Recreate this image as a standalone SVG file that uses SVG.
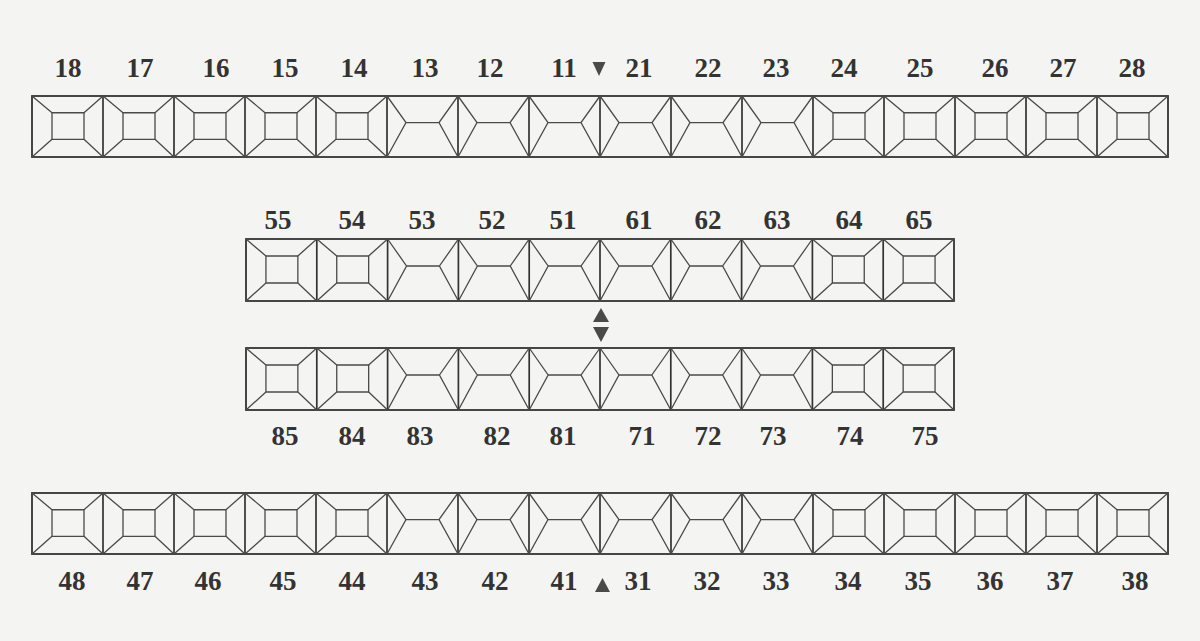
<svg xmlns="http://www.w3.org/2000/svg" xmlns:xlink="http://www.w3.org/1999/xlink" width="1200" height="641" viewBox="0 0 1200 641">
<style>
.bg{fill:#f4f4f2}
.row{fill:none;stroke:#333;stroke-width:1.8}
.div{stroke:#333;stroke-width:1.7}
.ln{fill:none;stroke:#4a4a4a;stroke-width:1.3;vector-effect:non-scaling-stroke}
.lbl{font-family:"Liberation Serif","Times New Roman",serif;font-weight:bold;font-size:27px;fill:#333;text-anchor:middle}
.tri{fill:#4a4a4a}
</style>
<defs>
<symbol id="molar" viewBox="0 0 71 62" preserveAspectRatio="none" overflow="visible">
<rect class="ln" x="20" y="17" width="32" height="27"/>
<path class="ln" d="M0 0L20 17M71 0L52 17M0 62L20 44M71 62L52 44"/>
</symbol>
<symbol id="ant" viewBox="0 0 71 62" preserveAspectRatio="none" overflow="visible">
<path class="ln" d="M0 0L19 27L0 62M19 27H52M71 0L52 27L71 62"/>
</symbol>
</defs>
<rect class="bg" width="1200" height="641"/>

<g id="row-upper">
<rect class="row" x="32" y="96" width="1136" height="61"/>
<path class="div" d="M103 96V157M174 96V157M245 96V157M316 96V157M387 96V157M458 96V157M529 96V157M600 96V157M671 96V157M742 96V157M813 96V157M884 96V157M955 96V157M1026 96V157M1097 96V157"/>
</g>
<g id="row-upper-primary">
<rect class="row" x="246" y="239" width="708" height="62"/>
<path class="div" d="M316.8 239V301M387.6 239V301M458.4 239V301M529.2 239V301M600 239V301M670.8 239V301M741.6 239V301M812.4 239V301M883.2 239V301"/>
</g>
<g id="row-lower-primary">
<rect class="row" x="246" y="348" width="708" height="62"/>
<path class="div" d="M316.8 348V410M387.6 348V410M458.4 348V410M529.2 348V410M600 348V410M670.8 348V410M741.6 348V410M812.4 348V410M883.2 348V410"/>
</g>
<g id="row-lower">
<rect class="row" x="32" y="493" width="1136" height="61"/>
<path class="div" d="M103 493V554M174 493V554M245 493V554M316 493V554M387 493V554M458 493V554M529 493V554M600 493V554M671 493V554M742 493V554M813 493V554M884 493V554M955 493V554M1026 493V554M1097 493V554"/>
</g>

<g id="t18"><use href="#molar" x="32" y="96" width="71" height="61"/><text class="lbl" x="68" y="77">18</text></g>
<g id="t17"><use href="#molar" x="103" y="96" width="71" height="61"/><text class="lbl" x="140" y="77">17</text></g>
<g id="t16"><use href="#molar" x="174" y="96" width="71" height="61"/><text class="lbl" x="216" y="77">16</text></g>
<g id="t15"><use href="#molar" x="245" y="96" width="71" height="61"/><text class="lbl" x="285" y="77">15</text></g>
<g id="t14"><use href="#molar" x="316" y="96" width="71" height="61"/><text class="lbl" x="354" y="77">14</text></g>
<g id="t13"><use href="#ant" x="387" y="96" width="71" height="61"/><text class="lbl" x="425" y="77">13</text></g>
<g id="t12"><use href="#ant" x="458" y="96" width="71" height="61"/><text class="lbl" x="490" y="77">12</text></g>
<g id="t11"><use href="#ant" x="529" y="96" width="71" height="61"/><text class="lbl" x="564" y="77">11</text></g>
<g id="t21"><use href="#ant" x="600" y="96" width="71" height="61"/><text class="lbl" x="639" y="77">21</text></g>
<g id="t22"><use href="#ant" x="671" y="96" width="71" height="61"/><text class="lbl" x="708" y="77">22</text></g>
<g id="t23"><use href="#ant" x="742" y="96" width="71" height="61"/><text class="lbl" x="776" y="77">23</text></g>
<g id="t24"><use href="#molar" x="813" y="96" width="71" height="61"/><text class="lbl" x="844" y="77">24</text></g>
<g id="t25"><use href="#molar" x="884" y="96" width="71" height="61"/><text class="lbl" x="920" y="77">25</text></g>
<g id="t26"><use href="#molar" x="955" y="96" width="71" height="61"/><text class="lbl" x="995" y="77">26</text></g>
<g id="t27"><use href="#molar" x="1026" y="96" width="71" height="61"/><text class="lbl" x="1063" y="77">27</text></g>
<g id="t28"><use href="#molar" x="1097" y="96" width="71" height="61"/><text class="lbl" x="1132" y="77">28</text></g>

<g id="t55"><use href="#molar" x="246" y="239" width="70.8" height="62"/><text class="lbl" x="278" y="229">55</text></g>
<g id="t54"><use href="#molar" x="316.8" y="239" width="70.8" height="62"/><text class="lbl" x="352" y="229">54</text></g>
<g id="t53"><use href="#ant" x="387.6" y="239" width="70.8" height="62"/><text class="lbl" x="422" y="229">53</text></g>
<g id="t52"><use href="#ant" x="458.4" y="239" width="70.8" height="62"/><text class="lbl" x="492" y="229">52</text></g>
<g id="t51"><use href="#ant" x="529.2" y="239" width="70.8" height="62"/><text class="lbl" x="563" y="229">51</text></g>
<g id="t61"><use href="#ant" x="600" y="239" width="70.8" height="62"/><text class="lbl" x="639" y="229">61</text></g>
<g id="t62"><use href="#ant" x="670.8" y="239" width="70.8" height="62"/><text class="lbl" x="708" y="229">62</text></g>
<g id="t63"><use href="#ant" x="741.6" y="239" width="70.8" height="62"/><text class="lbl" x="777" y="229">63</text></g>
<g id="t64"><use href="#molar" x="812.4" y="239" width="70.8" height="62"/><text class="lbl" x="849" y="229">64</text></g>
<g id="t65"><use href="#molar" x="883.2" y="239" width="70.8" height="62"/><text class="lbl" x="919" y="229">65</text></g>

<g id="t85"><use href="#molar" x="246" y="348" width="70.8" height="62"/><text class="lbl" x="285" y="445">85</text></g>
<g id="t84"><use href="#molar" x="316.8" y="348" width="70.8" height="62"/><text class="lbl" x="352" y="445">84</text></g>
<g id="t83"><use href="#ant" x="387.6" y="348" width="70.8" height="62"/><text class="lbl" x="420" y="445">83</text></g>
<g id="t82"><use href="#ant" x="458.4" y="348" width="70.8" height="62"/><text class="lbl" x="497" y="445">82</text></g>
<g id="t81"><use href="#ant" x="529.2" y="348" width="70.8" height="62"/><text class="lbl" x="563" y="445">81</text></g>
<g id="t71"><use href="#ant" x="600" y="348" width="70.8" height="62"/><text class="lbl" x="642" y="445">71</text></g>
<g id="t72"><use href="#ant" x="670.8" y="348" width="70.8" height="62"/><text class="lbl" x="708" y="445">72</text></g>
<g id="t73"><use href="#ant" x="741.6" y="348" width="70.8" height="62"/><text class="lbl" x="773" y="445">73</text></g>
<g id="t74"><use href="#molar" x="812.4" y="348" width="70.8" height="62"/><text class="lbl" x="850" y="445">74</text></g>
<g id="t75"><use href="#molar" x="883.2" y="348" width="70.8" height="62"/><text class="lbl" x="925" y="445">75</text></g>

<g id="t48"><use href="#molar" x="32" y="493" width="71" height="61"/><text class="lbl" x="72" y="590">48</text></g>
<g id="t47"><use href="#molar" x="103" y="493" width="71" height="61"/><text class="lbl" x="140" y="590">47</text></g>
<g id="t46"><use href="#molar" x="174" y="493" width="71" height="61"/><text class="lbl" x="208" y="590">46</text></g>
<g id="t45"><use href="#molar" x="245" y="493" width="71" height="61"/><text class="lbl" x="283" y="590">45</text></g>
<g id="t44"><use href="#molar" x="316" y="493" width="71" height="61"/><text class="lbl" x="352" y="590">44</text></g>
<g id="t43"><use href="#ant" x="387" y="493" width="71" height="61"/><text class="lbl" x="425" y="590">43</text></g>
<g id="t42"><use href="#ant" x="458" y="493" width="71" height="61"/><text class="lbl" x="495" y="590">42</text></g>
<g id="t41"><use href="#ant" x="529" y="493" width="71" height="61"/><text class="lbl" x="564" y="590">41</text></g>
<g id="t31"><use href="#ant" x="600" y="493" width="71" height="61"/><text class="lbl" x="638" y="590">31</text></g>
<g id="t32"><use href="#ant" x="671" y="493" width="71" height="61"/><text class="lbl" x="707" y="590">32</text></g>
<g id="t33"><use href="#ant" x="742" y="493" width="71" height="61"/><text class="lbl" x="776" y="590">33</text></g>
<g id="t34"><use href="#molar" x="813" y="493" width="71" height="61"/><text class="lbl" x="848" y="590">34</text></g>
<g id="t35"><use href="#molar" x="884" y="493" width="71" height="61"/><text class="lbl" x="918" y="590">35</text></g>
<g id="t36"><use href="#molar" x="955" y="493" width="71" height="61"/><text class="lbl" x="990" y="590">36</text></g>
<g id="t37"><use href="#molar" x="1026" y="493" width="71" height="61"/><text class="lbl" x="1060" y="590">37</text></g>
<g id="t38"><use href="#molar" x="1097" y="493" width="71" height="61"/><text class="lbl" x="1135" y="590">38</text></g>

<g id="markers">
<polygon class="tri" points="592.5,62 605.5,62 599,76"/>
<polygon class="tri" points="593,322 609,322 601,308"/>
<polygon class="tri" points="593,327 609,327 601,342"/>
<polygon class="tri" points="595,592 610,592 602.5,578"/>
</g>
</svg>
